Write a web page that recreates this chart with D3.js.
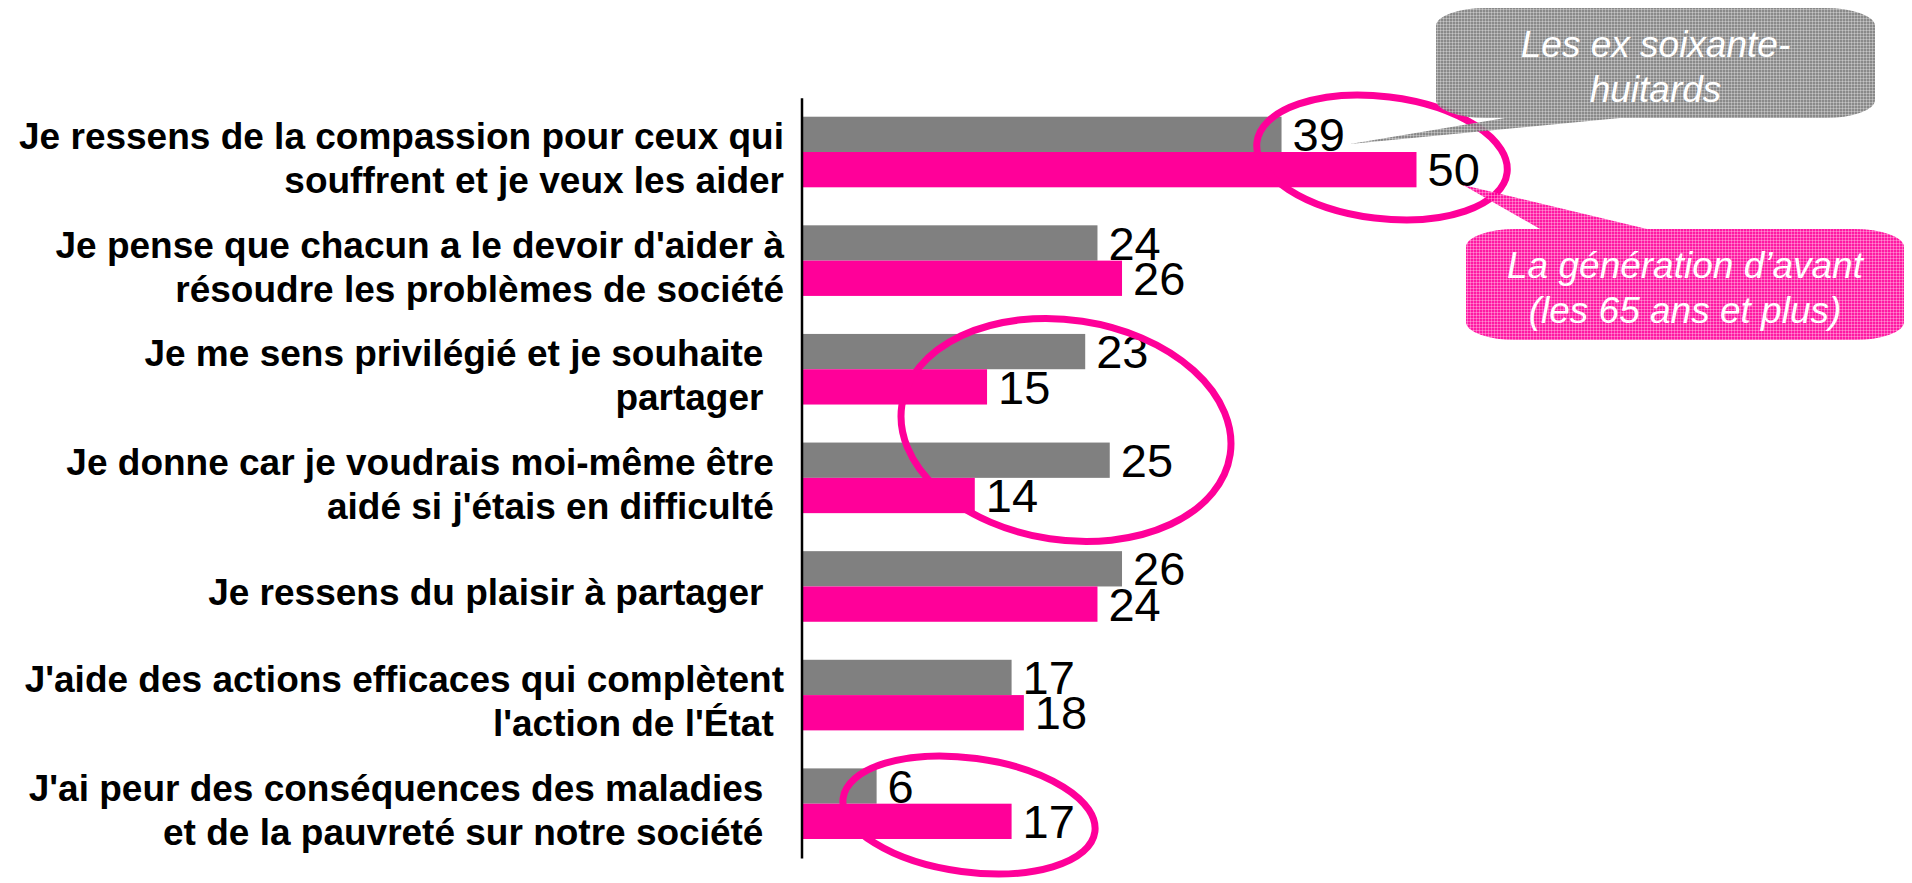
<!DOCTYPE html>
<html>
<head>
<meta charset="utf-8">
<script src="https://cdn.jsdelivr.net/npm/d3@7/dist/d3.min.js"></script>
<style>
  body { margin: 0; background: #fff; overflow: hidden; }
  svg text { font-family: "Liberation Sans", Arial, sans-serif; white-space: pre; }
</style>
</head>
<body>
<div id="chart"></div>
<script>
// category labels, already broken in lines as on the slide (trailing spaces kept)
var categories = [
    ["Je ressens de la compassion pour ceux qui", "souffrent et je veux les aider"],
    ["Je pense que chacun a le devoir d'aider à", "résoudre les problèmes de société"],
    ["Je me sens privilégié et je souhaite  ", "partager  "],
    ["Je donne car je voudrais moi-même être ", "aidé si j'étais en difficulté "],
    ["Je ressens du plaisir à partager  "],
    ["J'aide des actions efficaces qui complètent", "l'action de l'État "],
    ["J'ai peur des conséquences des maladies  ", "et de la pauvreté sur notre société  "]
];
var seriesKeys = ["ex68", "avant"];
var exSoixanteHuitards = [39, 24, 23, 25, 26, 17, 6];
var generationAvant = [50, 26, 15, 14, 24, 18, 17];
var calloutEx68 = ["Les ex soixante-", "huitards"];
var calloutAvant = ["La génération d\u2019avant", "(les 65 ans et plus)"];

var width = 1912, height = 883;
var grey = "#808080", pink = "#ff0099";
var labelFont = 37, labelLine = 44, valueFont = 47;

var svg = d3.select("#chart").append("svg")
    .attr("width", width)
    .attr("height", height);

var defs = svg.append("defs");
function texture(id, base) {
    var p = defs.append("pattern")
        .attr("id", id)
        .attr("width", 3).attr("height", 3)
        .attr("patternUnits", "userSpaceOnUse");
    p.append("rect").attr("width", 3).attr("height", 3).attr("fill", base).attr("opacity", 0.9);
    p.append("rect").attr("width", 3).attr("height", 1).attr("fill", "#fff").attr("opacity", 0.3);
    p.append("rect").attr("width", 1).attr("height", 3).attr("fill", "#fff").attr("opacity", 0.3);
}
texture("texGrey", "#7c7c7c");
texture("texPink", pink);

var x = d3.scaleLinear()
    .domain([0, 50])
    .range([803, 1416.5]);

var y = d3.scaleBand()
    .domain(d3.range(categories.length))
    .range([97.7, 858])
    .paddingInner(0.35)
    .paddingOuter(0.175);

var sub = d3.scaleBand()
    .domain(seriesKeys)
    .range([0, y.bandwidth()]);

var color = d3.scaleOrdinal().domain(seriesKeys).range([grey, pink]);

var rows = categories.map(function (c, i) {
    return { i: i, lines: c, values: [
        { key: "ex68", v: exSoixanteHuitards[i] },
        { key: "avant", v: generationAvant[i] }
    ] };
});

/* bars */
var groups = svg.append("g").selectAll("g")
    .data(rows).enter()
    .append("g")
    .attr("transform", function (d) { return "translate(0," + y(d.i) + ")"; });

groups.selectAll("rect")
    .data(function (d) { return d.values; }).enter()
    .append("rect")
    .attr("x", x(0))
    .attr("y", function (d) { return sub(d.key); })
    .attr("width", function (d) { return x(d.v) - x(0); })
    .attr("height", sub.bandwidth())
    .attr("fill", function (d) { return color(d.key); });

groups.selectAll("text.value")
    .data(function (d) { return d.values; }).enter()
    .append("text")
    .attr("class", "value")
    .attr("x", function (d) { return x(d.v) + 11; })
    .attr("y", function (d) { return sub(d.key) + sub.bandwidth() - 1; })
    .attr("font-size", valueFont)
    .attr("fill", "#000")
    .text(function (d) { return d.v; });

/* category labels */
groups.append("text")
    .attr("text-anchor", "end")
    .attr("font-size", labelFont)
    .attr("font-weight", "bold")
    .attr("fill", "#000")
    .each(function (d) {
        var t = d3.select(this);
        var first = y.bandwidth() / 2 - (d.lines.length - 1) * labelLine / 2 + labelFont * 0.35 + 6;
        d.lines.forEach(function (line, k) {
            t.append("tspan")
                .attr("x", 784)
                .attr("y", first + k * labelLine)
                .text(line);
        });
    });

/* vertical axis line */
var axis = svg.append("g")
    .attr("transform", "translate(801.5,0)")
    .call(d3.axisLeft(y).tickSize(0).tickSizeOuter(0).tickFormat(""));
axis.select(".domain").attr("stroke", "#000").attr("stroke-width", 2.5);

/* highlight ellipses */
var rings = [
    { cx: 1382, cy: 157.5, rx: 126, ry: 61, rot: 7 },
    { cx: 1066, cy: 430, rx: 166, ry: 110, rot: 8.5 },
    { cx: 969, cy: 815, rx: 127, ry: 57, rot: 7.6 }
];
svg.append("g").selectAll("ellipse")
    .data(rings).enter()
    .append("ellipse")
    .attr("transform", function (d) { return "translate(" + d.cx + "," + d.cy + ") rotate(" + d.rot + ")"; })
    .attr("rx", function (d) { return d.rx; })
    .attr("ry", function (d) { return d.ry; })
    .attr("fill", "none")
    .attr("stroke", pink)
    .attr("stroke-width", 7);

/* callouts: rounded box with a wedge pointing at the data labels */
function calloutPath(b, tail) {
    var rx = 50, ry = 18;
    var s = "M" + (b.x0 + rx) + "," + b.y0;
    if (tail.side === "top") s += "H" + tail.b1 + "L" + tail.tx + "," + tail.ty + "L" + tail.b2 + "," + b.y0;
    s += "H" + (b.x1 - rx) + "A" + rx + "," + ry + " 0 0 1 " + b.x1 + "," + (b.y0 + ry);
    s += "V" + (b.y1 - ry) + "A" + rx + "," + ry + " 0 0 1 " + (b.x1 - rx) + "," + b.y1;
    if (tail.side === "bottom") s += "H" + tail.b2 + "L" + tail.tx + "," + tail.ty + "L" + tail.b1 + "," + b.y1;
    s += "H" + (b.x0 + rx) + "A" + rx + "," + ry + " 0 0 1 " + b.x0 + "," + (b.y1 - ry);
    s += "V" + (b.y0 + ry) + "A" + rx + "," + ry + " 0 0 1 " + (b.x0 + rx) + "," + b.y0 + "Z";
    return s;
}

var callouts = [
    { fill: "url(#texGrey)", lines: calloutEx68, baseline: 57,
      box: { x0: 1436, y0: 8, x1: 1875, y1: 118 },
      tail: { side: "bottom", b1: 1505, b2: 1620, tx: 1350, ty: 144 } },
    { fill: "url(#texPink)", lines: calloutAvant, baseline: 278,
      box: { x0: 1466, y0: 229, x1: 1904, y1: 340 },
      tail: { side: "top", b1: 1540, b2: 1647, tx: 1463, ty: 185 } }
];

var co = svg.append("g").selectAll("g")
    .data(callouts).enter()
    .append("g");

co.append("path")
    .attr("d", function (d) { return calloutPath(d.box, d.tail); })
    .attr("fill", function (d) { return d.fill; });

co.append("text")
    .attr("text-anchor", "middle")
    .attr("font-size", 37)
    .attr("font-style", "italic")
    .attr("fill", "#fff")
    .each(function (d) {
        var t = d3.select(this);
        d.lines.forEach(function (line, k) {
            t.append("tspan")
                .attr("x", (d.box.x0 + d.box.x1) / 2)
                .attr("y", d.baseline + k * 45)
                .text(line);
        });
    });
</script>
</body>
</html>
